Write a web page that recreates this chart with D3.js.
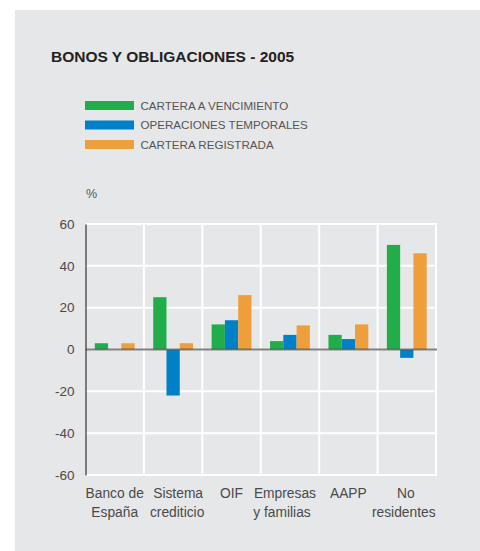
<!DOCTYPE html>
<html><head><meta charset="utf-8">
<script src="https://cdn.jsdelivr.net/npm/d3@7"></script>
<style>body{margin:0;background:#fff}svg{display:block;font-family:"Liberation Sans",Arial,sans-serif}</style>
</head><body>
<script>
const categories = [["Banco de","España"],["Sistema","crediticio"],["OIF",""],["Empresas","y familias"],["AAPP",""],["No","residentes"]];
const seriesNames = ["CARTERA A VENCIMIENTO","OPERACIONES TEMPORALES","CARTERA REGISTRADA"];
const seriesColors = ["#22ad4b","#0080c6","#ee9f3b"];
const vencimiento = [3, 25, 12, 4, 7, 50];
const temporales = [0, -22, 14, 7, 5, -4];
const registrada = [3, 3, 26, 11.5, 12, 46];
const yTicks = [60, 40, 20, 0, -20, -40, -60];

const series = [vencimiento, temporales, registrada];
const W = 480, H = 551;
const svg = d3.select("body").append("svg").attr("width", W).attr("height", H);
svg.append("rect").attr("x", 15).attr("y", 10).attr("width", W - 15).attr("height", H - 10).attr("fill", "#e6e7e9");

svg.append("text").attr("x", 51).attr("y", 62).attr("font-size", 15.5).attr("font-weight", "bold").attr("fill", "#222")
  .text("BONOS Y OBLIGACIONES - 2005");

// legend
const lg = svg.append("g");
seriesNames.forEach((n, i) => {
  const y = 101 + i * 19.5;
  lg.append("rect").attr("x", 85).attr("y", y).attr("width", 49).attr("height", 9).attr("fill", seriesColors[i]);
  lg.append("text").attr("x", 140.5).attr("y", y + 8.8).attr("font-size", 11.6).attr("fill", "#555").text(n);
});

svg.append("text").attr("x", 86).attr("y", 198).attr("font-size", 12.5).attr("fill", "#555").text("%");

const x0 = 85.5, x1 = 436, yTop = 224, yBot = 475;
const x = d3.scaleBand().domain(d3.range(categories.length)).range([x0, x1]).paddingInner(0).paddingOuter(0);
const y = d3.scaleLinear().domain([-60, 60]).range([yBot, yTop]);
const xs = d3.scaleBand().domain(d3.range(3)).range([0, x.bandwidth()]).paddingOuter(0.7).paddingInner(0);

// grid
const g = svg.append("g");
g.selectAll("line.h").data(yTicks).join("line").attr("x1", x0).attr("x2", x1 + 1)
  .attr("y1", d => y(d)).attr("y2", d => y(d)).attr("stroke", "#fff").attr("stroke-width", 2);
g.selectAll("line.v").data(d3.range(1, categories.length + 1)).join("line")
  .attr("x1", d => x0 + d * x.bandwidth()).attr("x2", d => x0 + d * x.bandwidth())
  .attr("y1", yTop).attr("y2", yBot).attr("stroke", "#fff").attr("stroke-width", 2);

// bars
series.forEach((vals, si) => {
  g.selectAll("rect.s" + si).data(vals).join("rect")
    .attr("x", (d, i) => x(i) + xs(si))
    .attr("width", xs.bandwidth())
    .attr("y", d => y(Math.max(0, d)))
    .attr("height", d => Math.abs(y(d) - y(0)))
    .attr("fill", seriesColors[si]);
});

// zero line
g.append("line").attr("x1", x0).attr("x2", x1 + 1).attr("y1", y(0)).attr("y2", y(0))
  .attr("stroke", "#555").attr("stroke-opacity", 0.75).attr("stroke-width", 2);

// y axis
const ya = svg.append("g").attr("transform", `translate(${x0},0)`)
  .call(d3.axisLeft(y).tickValues(yTicks).tickSize(0).tickPadding(11).tickFormat(d => String(d)));
ya.select(".domain").attr("stroke", "#333").attr("stroke-width", 1.2);
ya.selectAll("text").attr("font-size", 13.5).attr("fill", "#4a4a4a").attr("font-family", "Liberation Sans, Arial, sans-serif");

// x labels (small per-label horizontal nudges as in the original layout)
const nudge = [[0, 0], [5, 4], [0, 0], [-5, -8], [0, 0], [-1, -3]];
categories.forEach((c, i) => {
  const cx = x(i) + x.bandwidth() / 2;
  const t = svg.append("text").attr("y", 498)
    .attr("text-anchor", "middle").attr("font-size", 13.8).attr("fill", "#4a4a4a");
  t.append("tspan").attr("x", cx + nudge[i][0]).text(c[0]);
  if (c[1]) t.append("tspan").attr("x", cx + nudge[i][1]).attr("dy", 19).text(c[1]);
});
</script>
</body></html>
